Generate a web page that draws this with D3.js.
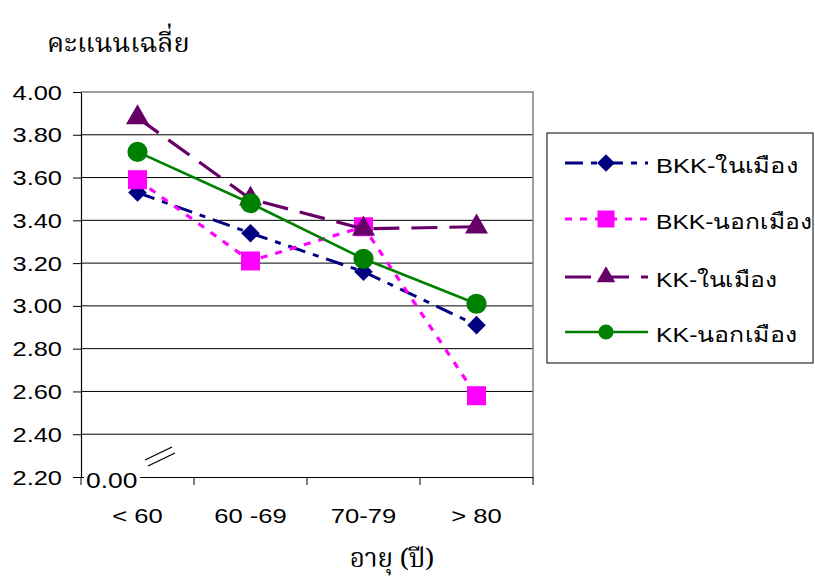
<!DOCTYPE html>
<html>
<head>
<meta charset="utf-8">
<script src="https://cdn.jsdelivr.net/npm/d3@7"></script>
<style>
  body { margin: 0; background: #fff; }
  text { font-family: "Liberation Sans", Arial, sans-serif; }
</style>
</head>
<body>
<div id="chart"></div>
<script>
/* DATA */
const categories = ["< 60", "60 -69", "70-79", "> 80"];
const yTicks = [2.2, 2.4, 2.6, 2.8, 3.0, 3.2, 3.4, 3.6, 3.8, 4.0];
const seriesNames = ["BKK-ในเมือง", "BKK-นอกเมือง", "KK-ในเมือง", "KK-นอกเมือง"];
const bkkIn = [3.53, 3.34, 3.16, 2.91];
const bkkOut = [3.59, 3.21, 3.37, 2.58];
const kkIn = [3.88, 3.50, 3.36, 3.37];
const kkOut = [3.72, 3.48, 3.22, 3.01];

/* CONSTANTS */
const width = 815, height = 581;
const plot = { left: 81, right: 533, top: 92, bottom: 477 };
const stretch = 1.27; // the source text is drawn wide
const thaiSerif = "'Noto Serif Thai', Norasi, Laksaman, 'Liberation Serif', serif";

const styles = [
  { color: "#000080", dash: "18,8,6,8", width: 3, marker: d3.symbolDiamond2, size: 220, lsize: 200, textW: 142 },
  { color: "#FF00FF", dash: "7,8", width: 3.2, marker: d3.symbolSquare, size: 361, lsize: 289, textW: 156 },
  { color: "#660066", dash: "26,12", width: 3.2, marker: d3.symbolTriangle, size: 230, lsize: 150, textW: 121 },
  { color: "#008000", dash: null, width: 2.6, marker: d3.symbolCircle, size: 320, lsize: 180, textW: 141 }
];
const seriesValues = [bkkIn, bkkOut, kkIn, kkOut];

const svg = d3.select("#chart").append("svg")
  .attr("width", width)
  .attr("height", height);

// + SCALES
const xScale = d3.scaleBand()
  .domain(categories)
  .range([plot.left, plot.right]);
const yScale = d3.scaleLinear()
  .domain([2.2, 4.0])
  .range([plot.bottom, plot.top]);

// gridlines
svg.append("g")
  .selectAll("line")
  .data(yTicks.slice(1, -1))
  .join("line")
  .attr("x1", plot.left).attr("x2", plot.right)
  .attr("y1", d => yScale(d)).attr("y2", d => yScale(d))
  .attr("stroke", "#000").attr("stroke-width", 1);

// plot border top/right (grey)
svg.append("path")
  .attr("d", `M${plot.left},${plot.top}H${plot.right}V${plot.bottom}`)
  .attr("fill", "none").attr("stroke", "#808080").attr("stroke-width", 1.5);

// + AXES
const yAxis = d3.axisLeft(yScale)
  .tickValues(yTicks)
  .tickFormat(d3.format(".2f"))
  .tickSize(8)
  .tickSizeOuter(0);
svg.append("g")
  .attr("class", "y-axis")
  .attr("transform", `translate(${plot.left},0)`)
  .call(yAxis)
  .call(g => g.select(".domain").attr("stroke", "#000").attr("stroke-width", 1.2))
  .call(g => g.selectAll(".tick line").attr("stroke", "#000"))
  .call(g => g.selectAll("text")
    .attr("x", null).attr("dy", "0.35em")
    .attr("transform", `translate(-19,0) scale(${stretch},1)`)
    .style("font-size", "20px").attr("fill", "#000"));

const xAxis = d3.axisBottom(xScale)
  .tickSize(0)
  .tickSizeOuter(0);
svg.append("g")
  .attr("class", "x-axis")
  .attr("transform", `translate(0,${plot.bottom})`)
  .call(xAxis)
  .call(g => g.select(".domain").attr("stroke", "#000").attr("stroke-width", 1.2))
  .call(g => g.selectAll("text")
    .attr("y", null).attr("dy", null)
    .attr("transform", `translate(0,46) scale(1.22,1)`)
    .style("font-size", "21px").attr("fill", "#000"));

// category boundary ticks
const bounds = categories.map(c => xScale(c)).concat([plot.right]);
svg.append("g")
  .selectAll("line")
  .data(bounds)
  .join("line")
  .attr("x1", d => d).attr("x2", d => d)
  .attr("y1", plot.bottom).attr("y2", plot.bottom + 8)
  .attr("stroke", "#000");

// axis break label "0.00" and //
svg.append("rect")
  .attr("x", plot.left + 3).attr("y", plot.bottom - 8)
  .attr("width", 56).attr("height", 20)
  .attr("fill", "#fff");
svg.append("text")
  .attr("transform", `translate(${plot.left + 5},${plot.bottom + 11}) scale(1.2,1)`)
  .style("font-size", "22px")
  .text("0.00");
svg.append("g")
  .selectAll("line")
  .data([0, 6])
  .join("line")
  .attr("x1", d => 145 + d / 2).attr("x2", d => 172 + d / 2)
  .attr("y1", d => 460 + d).attr("y2", d => 447 + d)
  .attr("stroke", "#000").attr("stroke-width", 1.3);

// + SERIES
const cx = c => xScale(c) + xScale.bandwidth() / 2;
seriesValues.forEach((vals, i) => {
  const s = styles[i];
  const pts = vals.map((v, j) => [cx(categories[j]), yScale(v)]);
  svg.append("path")
    .attr("d", d3.line()(pts))
    .attr("fill", "none")
    .attr("stroke", s.color)
    .attr("stroke-width", s.width)
    .attr("stroke-dasharray", s.dash);
  svg.append("g")
    .selectAll("path")
    .data(pts)
    .join("path")
    .attr("transform", d => `translate(${d[0]},${d[1]})`)
    .attr("d", d3.symbol().type(s.marker).size(s.size))
    .attr("fill", s.color);
});

// + LEGEND
const legend = svg.append("g").attr("transform", "translate(547,133)");
legend.append("rect")
  .attr("width", 266).attr("height", 230)
  .attr("fill", "#fff").attr("stroke", "#000").attr("stroke-width", 1);
const rowY = [30, 86, 144, 199];
seriesNames.forEach((name, i) => {
  const s = styles[i];
  const row = legend.append("g").attr("transform", `translate(0,${rowY[i]})`);
  row.append("line")
    .attr("x1", 18).attr("x2", 101)
    .attr("stroke", s.color).attr("stroke-width", s.width)
    .attr("stroke-dasharray", s.dash);
  row.append("path")
    .attr("transform", "translate(59,0)")
    .attr("d", d3.symbol().type(s.marker).size(s.lsize))
    .attr("fill", s.color);
  row.append("text")
    .attr("x", 109).attr("y", 10)
    .attr("textLength", s.textW).attr("lengthAdjust", "spacingAndGlyphs")
    .style("font-size", "21px")
    .text(name);
});

// titles
svg.append("text")
  .attr("x", 47).attr("y", 52)
  .style("font-size", "27px")
  .style("font-family", thaiSerif)
  .text("คะแนนเฉลี่ย");
svg.append("text")
  .attr("x", 392).attr("y", 567)
  .attr("text-anchor", "middle")
  .style("font-size", "26px")
  .style("font-family", thaiSerif)
  .text("อายุ (ปี)");
</script>
</body>
</html>
